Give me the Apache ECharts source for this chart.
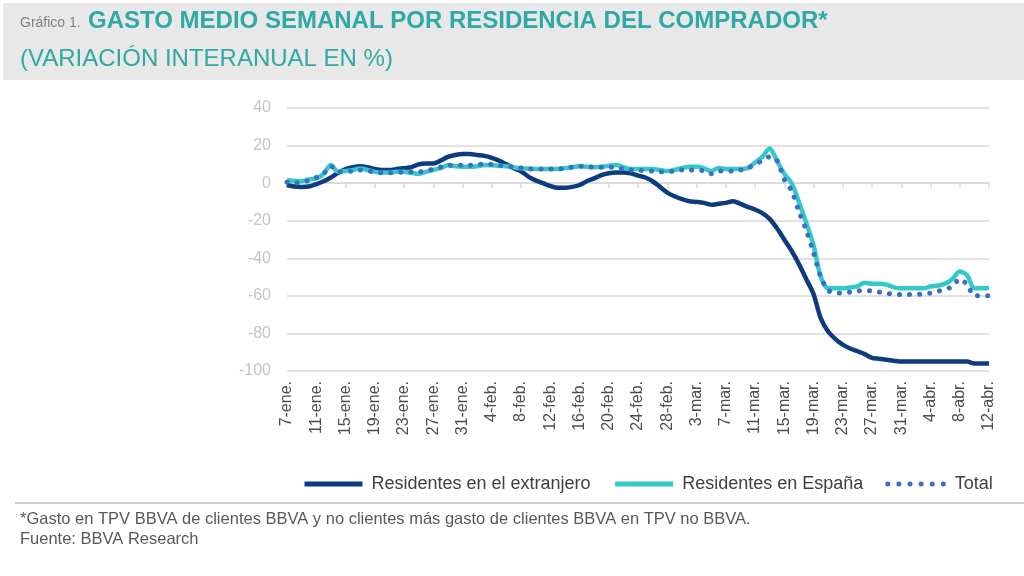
<!DOCTYPE html>
<html><head><meta charset="utf-8">
<script src="https://cdn.jsdelivr.net/npm/echarts@6/dist/echarts.min.js"></script>
<style>html,body{margin:0;padding:0;background:#fff}#c{width:1024px;height:576px}</style>
</head><body><div id="c"></div>
<script>
// ---- data ----
// daily categories 7-ene .. 12-abr (2020); labelled every 4 days
const months = [['ene',7,31],['feb',1,29],['mar',1,31],['abr',1,12]];
const categories = [];
months.forEach(([m,a,b]) => { for (let d = a; d <= b; d++) categories.push(d + '-' + m + '.'); });

const extranjero = [-1,-1.8,-2,-1.8,-0.5,1,3,5.5,7.5,8.5,9,8.5,7.5,7,7,7.5,8,8.5,10,10.5,10.5,12,14,15,15.5,15.5,15,14.5,13.5,12,10,8,6.3,3.5,1.5,0,-1.5,-2.5,-2.5,-2,-1,1,2.5,4.3,5.3,5.7,5.7,5.2,4,3,1,-2,-5,-7,-8.5,-9.6,-10,-10.5,-11.5,-11,-10.5,-9.6,-11,-12.6,-14,-16,-19,-24,-30,-36,-43,-51,-59,-72,-79,-83,-86,-88,-89.5,-91,-93,-93.5,-94,-94.5,-95,-95,-95,-95,-95,-95,-95,-95,-95,-95,-96,-96,-96];
const espana = [1.5,1.2,1,2,2.5,5,9.6,6,6.5,7,7.8,7,6,5.7,5.7,6,6,5.5,5,6,7,8,9.5,9,8.7,8.7,9,9.6,9.5,9.2,9,8.5,7.8,7.8,7.5,7.5,7.5,7.5,8,8.5,9,8.7,8.5,8.7,9.3,9.6,8.5,7.5,7.5,7.5,7.5,7,6.4,7,8,8.7,8.7,8,6.4,8,7.5,7.5,7.5,8,11,14,18.5,12,5,0,-10,-21,-33,-50,-56,-56,-56,-55.5,-55,-53,-53.5,-53.5,-54,-55.5,-56,-56,-56,-56,-55,-54.5,-53.5,-51,-47,-49,-56,-56,-55.8];
const total = [0.5,0,0.5,1.5,3,5,9,6,6,6.5,7,6.5,6,5.5,5.5,5.5,6,6,6,6.5,7.5,8.5,9.5,9.5,9.5,9.5,10,10,10,9.5,9,8.5,8,7.5,7.5,7.5,7.5,7.5,8,8.5,9,9,8.5,8.5,8.5,8.5,7.5,7,7,6.5,6.5,6,6,6.5,7,7,7,6.5,5,6.5,6.5,6.5,7,8,10,12,14,12,2,-4,-15,-25,-37,-50,-57,-58.5,-58.5,-58,-57.5,-57,-57.5,-58,-58.5,-59.3,-59.3,-59.3,-59.3,-59,-58.5,-57.6,-56.5,-55,-51,-54,-60,-60,-60];
const seriesNames = ['Residentes en el extranjero','Residentes en España','Total'];

const sans = '"Liberation Sans", Arial, sans-serif';
const chart = echarts.init(document.getElementById('c'), null, {renderer:'canvas'});
chart.setOption({
  animation: false,
  backgroundColor: '#ffffff',
  graphic: [
    {type:'rect', shape:{x:3,y:3,width:1021,height:77}, style:{fill:'#e8e8e8'}, z:-1},
    {type:'text', left:20, top:16, style:{text:'Gráfico 1.', font:'14px '+sans, fill:'#7f7f7f'}},
    {type:'text', left:88, top:9, style:{text:'GASTO MEDIO SEMANAL POR RESIDENCIA DEL COMPRADOR*', font:'bold 24px '+sans, fill:'#2ea9a4'}},
    {type:'text', left:20, top:47, style:{text:'(VARIACIÓN INTERANUAL EN %)', font:'24px '+sans, fill:'#2ea9a4'}},
    {type:'rect', shape:{x:15,y:502,width:1009,height:2}, style:{fill:'#cfcfcf'}},
    {type:'text', left:20, top:511, style:{text:'*Gasto en TPV BBVA de clientes BBVA y no clientes más gasto de clientes BBVA en TPV no BBVA.', font:'16.5px '+sans, fill:'#595959'}},
    {type:'text', left:20, top:531, style:{text:'Fuente: BBVA Research', font:'16.5px '+sans, fill:'#595959'}}
  ],
  legend: {
    top: 470, left: 297,
    itemWidth: 58, itemHeight: 14, itemGap: 22,
    itemStyle: {opacity: 0},
    textStyle: {fontFamily:sans, fontSize:18, color:'#404040', padding:[0,0,0,4]},
    data: [
      {name:seriesNames[0], lineStyle:{width:5}},
      {name:seriesNames[1], lineStyle:{width:5}},
      {name:seriesNames[2], lineStyle:{width:5, type:[0.1,11], cap:'round'}}
    ]
  },
  grid: {left:287, right:35, top:108, bottom:205, containLabel:false},
  xAxis: [
    {type:'category', data:categories, boundaryGap:false, position:'bottom',
     axisLine:{show:false, onZero:false}, axisTick:{show:false},
     axisLabel:{interval:3, rotate:90, margin:10, fontFamily:sans, fontSize:16, color:'#4d4d4d'},
     splitLine:{show:false}},
    {type:'category', data:categories, boundaryGap:false, position:'bottom',
     axisLine:{show:true, onZero:true, lineStyle:{color:'#d9d9d9', width:1.5}},
     axisTick:{show:true, interval:3, length:5, inside:false, lineStyle:{color:'#d9d9d9', width:1.5}},
     axisLabel:{show:false}, splitLine:{show:false}}
  ],
  yAxis: {type:'value', min:-100, max:40, interval:20,
    axisLine:{show:false}, axisTick:{show:false},
    axisLabel:{margin:16, fontFamily:sans, fontSize:16, color:'#c4c4c4'},
    splitLine:{lineStyle:{color:'#d9d9d9', width:1.5}}},
  series: [
    {name:seriesNames[0], type:'line', data:extranjero, symbol:'none', smooth:0.3, z:3,
     lineStyle:{color:'#0d3c7e', width:4.5}, itemStyle:{color:'#0d3c7e'}},
    {name:seriesNames[1], type:'line', data:espana, symbol:'none', smooth:0.3, z:4,
     lineStyle:{color:'#35c8c8', width:4.5}, itemStyle:{color:'#35c8c8'}},
    {name:seriesNames[2], type:'line', data:total, symbol:'none', smooth:0.3, z:5,
     lineStyle:{color:'#3a6fc2', width:5, type:[0.1,10], cap:'round'}, itemStyle:{color:'#3a6fc2'}}
  ]
});
</script></body></html>
